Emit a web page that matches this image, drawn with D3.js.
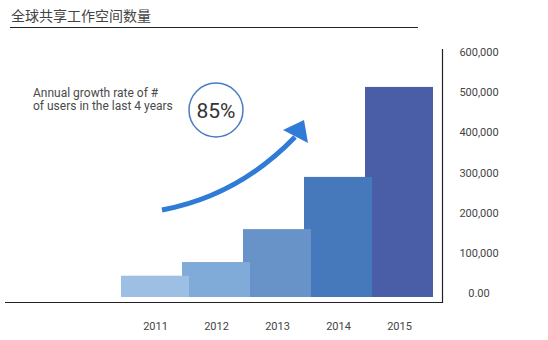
<!DOCTYPE html>
<html>
<head>
<meta charset="utf-8">
<script src="https://cdn.jsdelivr.net/npm/d3@7/dist/d3.min.js"></script>
<style>
  html, body { margin: 0; padding: 0; background: #ffffff; }
  svg { display: block; }
</style>
</head>
<body>
<svg id="chart" width="548" height="340"></svg>
<script>
// Data
const years = ["2011", "2012", "2013", "2014", "2015"];
const users = [53000, 87000, 169000, 299000, 523000];
const barColors = ["#9dbfe4", "#80aad7", "#6893c9", "#4679bb", "#4a5ea8"];
const yTicks = [0, 100000, 200000, 300000, 400000, 500000, 600000];
const title = "全球共享工作空间数量";
const noteLines = ["Annual growth rate of #", "of users in the last 4 years"];
const growthLabel = "85%";

const svg = d3.select("#chart");
const font = "Roboto, 'Liberation Sans', sans-serif";

// Scales
const x = d3.scaleBand().domain(years).range([121, 426]).paddingInner(0).paddingOuter(0);
const y = d3.scaleLinear().domain([0, 600000]).range([297, 56]);
const overlap = 7;

// Title and rule
svg.append("text")
  .attr("x", 11).attr("y", 21)
  .attr("font-family", "'Noto Sans CJK SC', sans-serif")
  .attr("font-size", 14).attr("fill", "#444")
  .text(title);
svg.append("line")
  .attr("x1", 10).attr("x2", 418).attr("y1", 27.5).attr("y2", 27.5)
  .attr("stroke", "#222").attr("stroke-width", 1);

// Bars: later years sit behind earlier ones
const data = years.map((yr, i) => ({ yr, v: users[i], c: barColors[i] }));
svg.append("g").selectAll("rect")
  .data(data.slice().reverse())
  .join("rect")
  .attr("x", d => x(d.yr))
  .attr("y", d => y(d.v))
  .attr("width", x.bandwidth() + overlap)
  .attr("height", d => y(0) - y(d.v))
  .attr("fill", d => d.c);

// Axis frame lines
svg.append("line")
  .attr("x1", 5).attr("x2", 443).attr("y1", 302.5).attr("y2", 302.5)
  .attr("stroke", "#222").attr("stroke-width", 1.2);
svg.append("line")
  .attr("x1", 442.5).attr("x2", 442.5).attr("y1", 49).attr("y2", 303)
  .attr("stroke", "#222").attr("stroke-width", 1.2);

// Right-side value labels
const fmt = v => v === 0 ? "0.00" : d3.format(",")(v);
const yAxis = d3.axisRight(y).tickValues(yTicks).tickFormat(fmt).tickSize(0).tickPadding(0);
const gy = svg.append("g").attr("transform", "translate(479,-4)").call(yAxis);
gy.select(".domain").remove();
gy.selectAll("text")
  .attr("text-anchor", "middle")
  .attr("font-family", font).attr("font-size", 11).attr("fill", "#444");

// Year labels
const xAxis = d3.axisBottom(x).tickSize(0).tickPadding(0);
const gx = svg.append("g").attr("transform", "translate(" + (overlap / 2 + 0.5) + ",322)").call(xAxis);
gx.select(".domain").remove();
gx.selectAll("text")
  .attr("font-family", font).attr("font-size", 11).attr("fill", "#444");

// Growth note
const note = svg.append("text")
  .attr("font-family", font).attr("font-size", 12).attr("fill", "#4a4a4a");
noteLines.forEach((t, i) => {
  note.append("tspan").attr("x", 33).attr("y", 97 + i * 12.5).text(t);
});

// Growth circle
svg.append("circle")
  .attr("cx", 216).attr("cy", 110).attr("r", 27)
  .attr("fill", "none").attr("stroke", "#4a7cc0").attr("stroke-width", 1.5);
svg.append("text")
  .attr("x", 216).attr("y", 118)
  .attr("text-anchor", "middle")
  .attr("font-family", font).attr("font-size", 21).attr("fill", "#333")
  .text(growthLabel);

// Rising arrow
const arrowColor = "#2f7bd6";
const curve = d3.path();
curve.moveTo(162, 210);
curve.quadraticCurveTo(238, 196, 295, 137);
svg.append("path")
  .attr("d", curve.toString())
  .attr("fill", "none").attr("stroke", arrowColor).attr("stroke-width", 5);
svg.append("path")
  .attr("d", "M283,130 L304,120 L308,143 Z")
  .attr("fill", arrowColor);
</script>
</body>
</html>
